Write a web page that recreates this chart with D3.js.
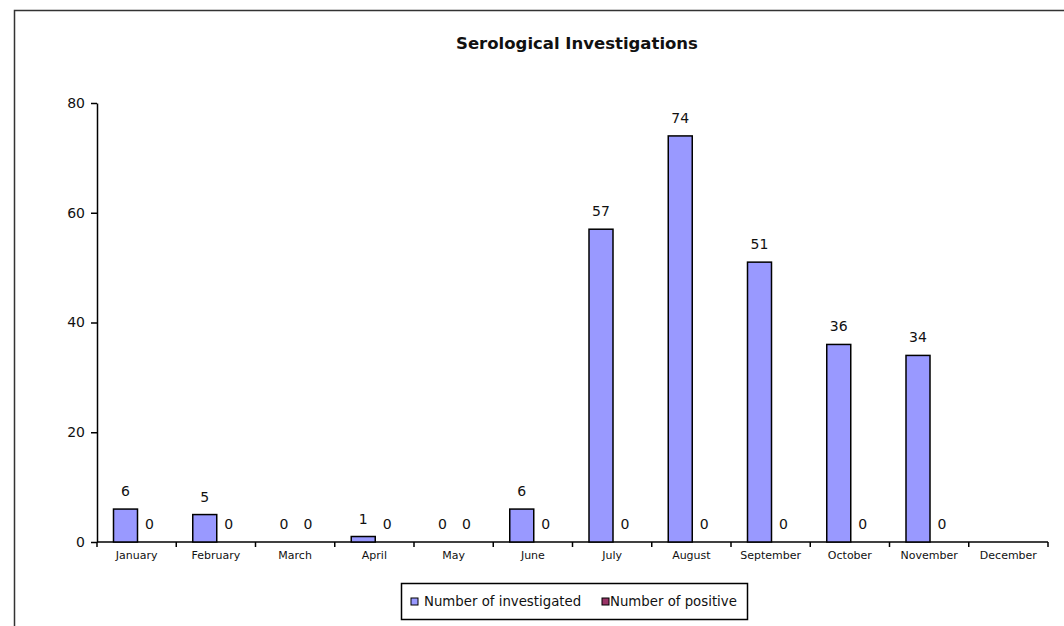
<!DOCTYPE html>
<html>
<head>
<meta charset="utf-8">
<script src="https://cdn.jsdelivr.net/npm/d3@7"></script>
<style>
  body { margin: 0; background: #fff; }
  svg { display: block; font-family: "DejaVu Sans", Arial, sans-serif; }
</style>
</head>
<body>
<div id="chart"></div>
<script>
const months = ["January", "February", "March", "April", "May", "June", "July",
    "August", "September", "October", "November", "December"];
const investigated = [6, 5, 0, 1, 0, 6, 57, 74, 51, 36, 34, null];
const positive = [0, 0, 0, 0, 0, 0, 0, 0, 0, 0, 0, null];
const seriesNames = ["Number of investigated", "Number of positive"];
const seriesColors = ["#9999ff", "#993366"];
const yTicks = [0, 20, 40, 60, 80];

const W = 1064, H = 626;
const plot = {left: 97, right: 1048, top: 103, bottom: 542};

const svg = d3.select("#chart").append("svg")
    .attr("width", W)
    .attr("height", H);

// outer frame (cut off at right and bottom)
svg.append("rect")
    .attr("x", 14.5).attr("y", 10.5)
    .attr("width", 1100).attr("height", 700)
    .attr("fill", "none")
    .attr("stroke", "#333")
    .attr("stroke-width", 1.5);

svg.append("text")
    .attr("x", 577).attr("y", 49)
    .attr("text-anchor", "middle")
    .attr("font-size", 16.5)
    .attr("font-weight", "bold")
    .attr("fill", "#111")
    .text("Serological Investigations");

const x = d3.scaleBand()
    .domain(months)
    .range([plot.left, plot.right]);

const x1 = d3.scaleBand()
    .domain(seriesNames)
    .range([16.5, 64.5]);

const y = d3.scaleLinear()
    .domain([0, 80])
    .range([plot.bottom, plot.top]);

// y axis
const yAxis = svg.append("g")
    .attr("transform", `translate(${plot.left},0)`)
    .call(d3.axisLeft(y).tickValues(yTicks).tickSize(6).tickSizeOuter(0).tickPadding(6));
yAxis.select(".domain").attr("stroke", "#000").attr("stroke-width", 1.5);
yAxis.selectAll(".tick line").attr("stroke", "#000").attr("stroke-width", 1.5);
yAxis.selectAll(".tick text").attr("font-size", 14).attr("fill", "#111")
    .attr("font-family", "DejaVu Sans, Arial, sans-serif");

// x axis: ticks on category boundaries
const xg = svg.append("g")
    .attr("transform", `translate(0,${plot.bottom})`);
xg.append("line")
    .attr("x1", plot.left).attr("x2", plot.right)
    .attr("stroke", "#000").attr("stroke-width", 1.5);
const bounds = months.map(m => x(m)).concat([plot.right]);
xg.selectAll(".xt").data(bounds).join("line")
    .attr("x1", d => d).attr("x2", d => d)
    .attr("y1", 0).attr("y2", 5)
    .attr("stroke", "#000").attr("stroke-width", 1.5);
xg.selectAll(".xl").data(months).join("text")
    .attr("x", d => x(d) + x.bandwidth() / 2)
    .attr("y", 17)
    .attr("text-anchor", "middle")
    .attr("font-size", 11)
    .attr("fill", "#111")
    .text(d => d);

const data = months.map((m, i) => ({
    month: m,
    values: [
        {key: seriesNames[0], value: investigated[i]},
        {key: seriesNames[1], value: positive[i]}
    ]
}));

const groups = svg.selectAll(".grp").data(data).join("g")
    .attr("transform", d => `translate(${x(d.month)},0)`);

groups.selectAll("rect")
    .data(d => d.values.filter(v => v.value != null && v.value > 0))
    .join("rect")
    .attr("x", d => x1(d.key))
    .attr("width", x1.bandwidth())
    .attr("y", d => y(d.value))
    .attr("height", d => y(0) - y(d.value))
    .attr("fill", d => seriesColors[seriesNames.indexOf(d.key)])
    .attr("stroke", "#000")
    .attr("stroke-width", 1.5);

groups.selectAll(".val")
    .data(d => d.values.filter(v => v.value != null))
    .join("text")
    .attr("x", d => x1(d.key) + x1.bandwidth() / 2)
    .attr("y", d => y(d.value) - 13)
    .attr("text-anchor", "middle")
    .attr("font-size", 14)
    .attr("fill", "#111")
    .text(d => d.value);

// legend
const lg = svg.append("g").attr("transform", "translate(401,583)");
lg.append("rect")
    .attr("x", 0.5).attr("y", 0.5)
    .attr("width", 346).attr("height", 36)
    .attr("fill", "#fff")
    .attr("stroke", "#000")
    .attr("stroke-width", 1.5);
const items = [{x: 10, tx: 23}, {x: 201, tx: 209}];
seriesNames.forEach((s, i) => {
    lg.append("rect")
        .attr("x", items[i].x).attr("y", 15)
        .attr("width", 7).attr("height", 7)
        .attr("fill", seriesColors[i])
        .attr("stroke", "#000")
        .attr("stroke-width", 1);
    lg.append("text")
        .attr("x", items[i].tx).attr("y", 23)
        .attr("font-size", 13.3)
        .attr("fill", "#111")
        .text(s);
});
</script>
</body>
</html>
